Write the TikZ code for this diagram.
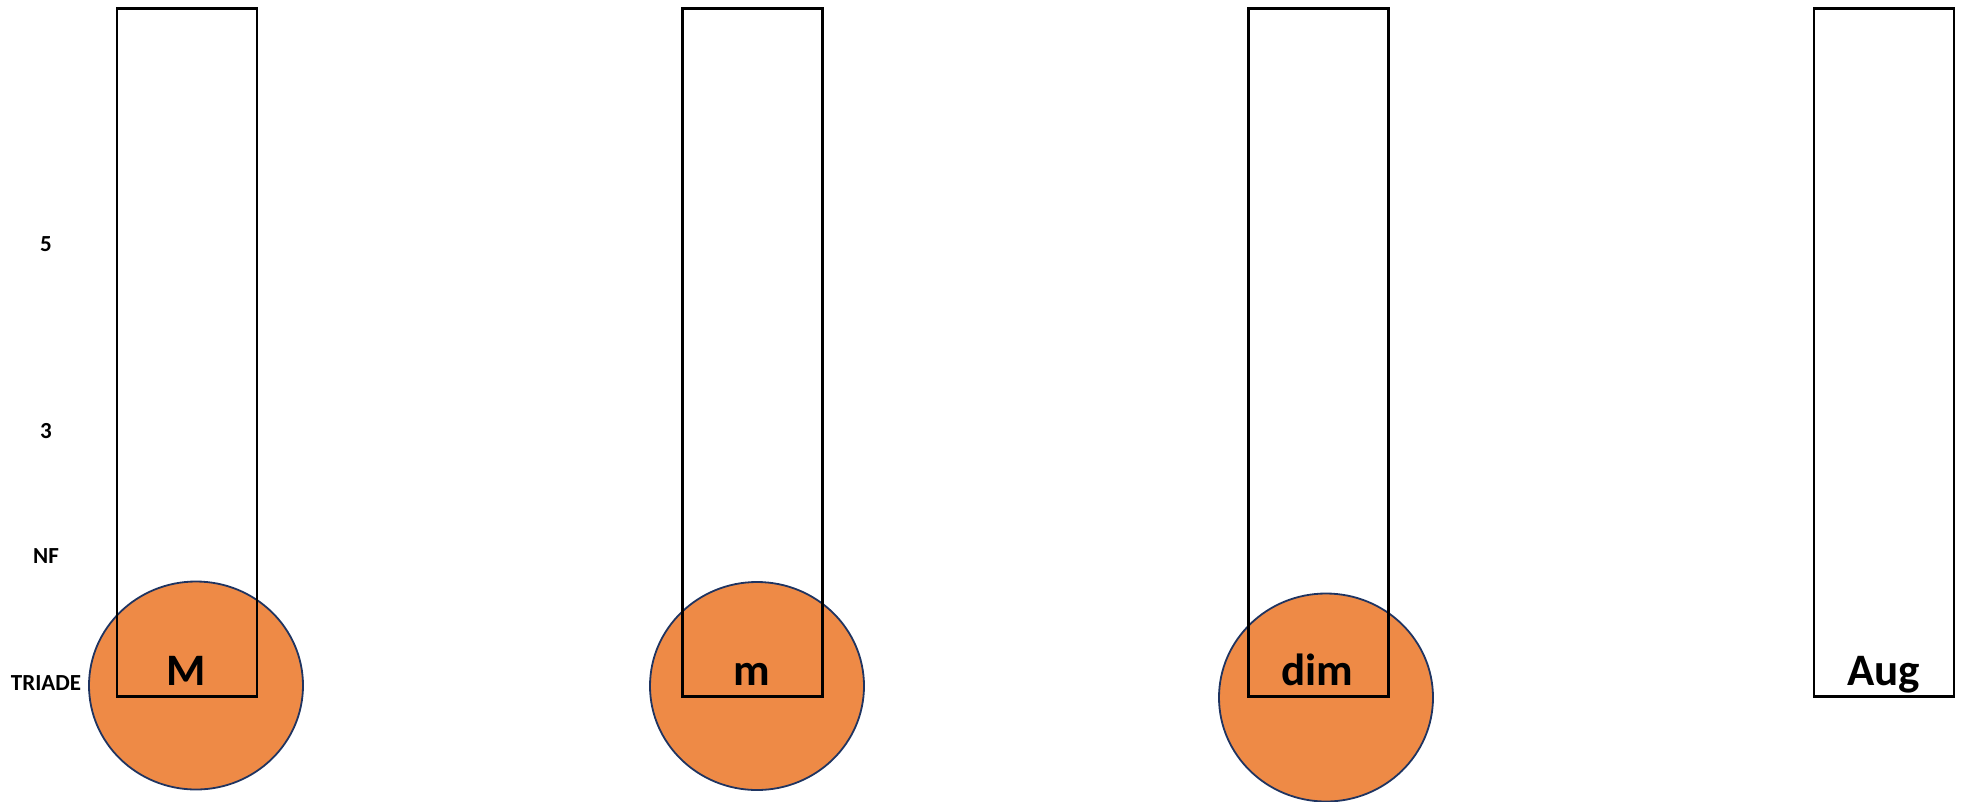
\documentclass[tikz,border=0pt]{standalone}
\usepackage{fontspec}
\setmainfont{Carlito}
\usetikzlibrary{shapes.geometric}
\definecolor{chordfill}{HTML}{EE8A46}
\definecolor{chordline}{HTML}{1F3461}
\tikzset{
  column/.style={draw=black, line width=2.4pt, fill=none, inner sep=0pt,
    minimum width=140pt, minimum height=688pt},
  chord/.style={ellipse, draw=chordline, line width=1.8pt, fill=chordfill,
    inner sep=0pt, minimum width=214pt, minimum height=208pt},
  bigtag/.style={font=\bfseries\fontsize{45}{45}\selectfont, anchor=base, inner sep=0pt},
  rowtag/.style={font=\bfseries\fontsize{23}{23}\selectfont, anchor=base, inner sep=0pt}
}
\begin{document}
\begin{tikzpicture}[x=1pt, y=-1pt]
\useasboundingbox (0,0) rectangle (1962,801);
% chord discs
\node[chord] (cM)   at (196,685.5) {};
\node[chord] (cm)   at (757,686) {};
\node[chord] (cdim) at (1326,697.5) {};
% interval columns
\node[column] (rM)   at (187,352.3) {};
\node[column] (rm)   at (752.5,352.3) {};
\node[column] (rdim) at (1318.5,352.3) {};
\node[column] (raug) at (1884,352.3) {};
% chord names
\node[bigtag] (tM)   at (186.5,685) {M};
\node[bigtag] (tm)   at (752,685) {m};
\node[bigtag] (tdim) at (1317.5,685) {dim};
\node[bigtag] (taug) at (1883.5,685) {Aug};
% row labels
\node[rowtag] (l5)  at (46,251.5) {5};
\node[rowtag] (l3)  at (46,438.3) {3};
\node[rowtag] (lnf) at (46,563.3) {NF};
\node[rowtag] (ltr) at (46,690.7) {TRIADE};
\end{tikzpicture}
\end{document}
